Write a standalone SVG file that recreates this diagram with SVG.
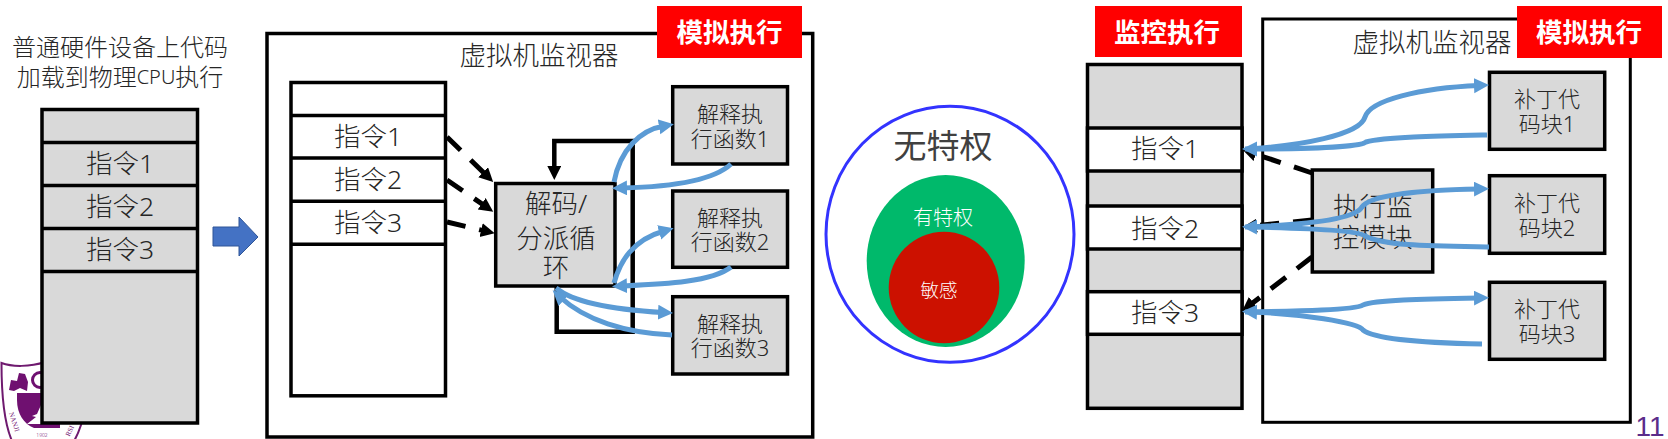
<svg xmlns="http://www.w3.org/2000/svg" width="1668" height="439" viewBox="0 0 1668 439">
<style>
text{font-family:"Noto Sans","Noto Sans CJK SC",sans-serif;text-anchor:middle;dominant-baseline:central;fill:#262626;font-weight:300}
.g{fill:#d9d9d9;stroke:#000;stroke-width:3.5}
.w{fill:#fff;stroke:#000;stroke-width:3.5}
.ln{stroke:#000;stroke-width:3.5;fill:none}
.red{fill:#f00}
.rt{fill:#fff;font-size:26.500px;font-weight:700}
.t26{font-size:26.500px}
.t22{font-size:22px}
.blue{fill:none;stroke:#5b9bd5;stroke-width:5;stroke-linecap:butt}
.ba{marker-end:url(#bh)}
.dash{fill:none;stroke:#000;stroke-width:5;stroke-dasharray:19 14;marker-end:url(#kh)}
</style>
<defs>
<marker id="bh" markerUnits="userSpaceOnUse" markerWidth="16" markerHeight="16" refX="5" refY="7.500" orient="auto"><path d="M0,0L15,7.500L0,15z" fill="#5b9bd5"/></marker>
<marker id="kh" markerUnits="userSpaceOnUse" markerWidth="15" markerHeight="15" refX="4" refY="7" orient="auto"><path d="M0,0L14,7L0,14z" fill="#000"/></marker>
</defs>
<rect width="1668" height="439" fill="#fff"/>

<g id="logo">
<path d="M1.500,363C12,367 30,367 45,362L90,362L81,425C79,431 77,436 74,441L12,441C5,425 1.500,400 1.500,363z" fill="#fff" stroke="#6f1a6f" stroke-width="2"/>
<path d="M17,393L60,393L60,428L34,428C24,424 17,414 17,400z" fill="#6f1070"/>
<path d="M41,405L37,414L32,416L36,417L27,424L41,424z" fill="#fff"/>
<path d="M9,390L11,380L17,381L19,373L25,374L28,382L27,391L20,388L14,391z" fill="#6f1070"/>
<circle cx="40" cy="380" r="7.500" fill="#fff" stroke="#6f1070" stroke-width="3"/>
<text x="14" y="422" font-size="7" transform="rotate(72 14 422)" style="fill:#6f1070;font-family:'Liberation Serif',serif">NANJI</text>
<text x="42" y="435" font-size="5" style="fill:#6f1070">1902</text>
<text x="70" y="431" font-size="7" transform="rotate(-65 70 431)" style="fill:#6f1070;font-family:'Liberation Serif',serif">RSI</text>
</g>

<g id="source-label">
<text font-size="24"><tspan x="120" y="46">普通硬件设备上代码</tspan><tspan x="120" y="76">加载到物理<tspan font-size="20">CPU</tspan>执行</tspan></text>
</g>

<g id="stack-hardware">
<rect class="g" x="42" y="109.500" width="155.500" height="313.500"/>
<path class="ln" d="M42,142.500H197.500M42,185.500H197.500M42,228.500H197.500M42,271.500H197.500"/>
<text class="t26" x="120" y="163">指令1</text>
<text class="t26" x="120" y="206">指令2</text>
<text class="t26" x="120" y="249">指令3</text>
</g>

<g id="big-arrow">
<path d="M213,227H239V217L258,237L239,256V246H213z" fill="#4472c4" stroke="#2f5597" stroke-width="1"/>
</g>

<g id="vmm-1">
<rect x="267" y="33.500" width="545.700" height="403.500" fill="#fff" stroke="#000" stroke-width="3.500"/>
<text class="t26" x="539" y="55">虚拟机监视器</text>
</g>
<g id="tag-emulate-1">
<rect class="red" x="657" y="6" width="145" height="52"/>
<text class="rt" x="729.500" y="32">模拟执行</text>
</g>

<g id="stack-vm">
<rect class="w" x="291" y="82.500" width="154.500" height="313.300"/>
<path class="ln" d="M291,115.500H445.500M291,158H445.500M291,201.300H445.500M291,244.300H445.500"/>
<text class="t26" x="368" y="136">指令1</text>
<text class="t26" x="368" y="179">指令2</text>
<text class="t26" x="368" y="222">指令3</text>
</g>

<g id="connectors-left">
<path d="M556.700,286V331.700H632.700V141H554.300V170" fill="none" stroke="#000" stroke-width="4.500" marker-end="url(#kh)"/>
<path class="dash" d="M447,137L486,175"/>
<path class="dash" d="M447,180L485,206"/>
<path class="dash" d="M447,222L485,231"/>
</g>

<g id="dispatch">
<rect class="g" x="495.700" y="183.500" width="119.300" height="102.500"/>
<text class="t26"><tspan x="556" y="203">解码/</tspan><tspan x="556" y="238">分派循</tspan><tspan x="556" y="267">环</tspan></text>
</g>

<g id="func-1">
<rect class="g" x="672.700" y="86.700" width="114.800" height="77.300"/>
<text class="t22"><tspan x="730" y="113">解释执</tspan><tspan x="730" y="138">行函数1</tspan></text>
</g>
<g id="func-2">
<rect class="g" x="672.700" y="191" width="114.800" height="76.300"/>
<text class="t22"><tspan x="730" y="217">解释执</tspan><tspan x="730" y="241">行函数2</tspan></text>
</g>
<g id="func-3">
<rect class="g" x="672.700" y="296.700" width="114.800" height="77.300"/>
<text class="t22"><tspan x="730" y="323">解释执</tspan><tspan x="730" y="347">行函数3</tspan></text>
</g>

<g id="connectors-left-blue">
<path class="blue ba" d="M614,182C620,150 640,130 664,126"/>
<path class="blue ba" d="M731,164C712,182 665,187 622,188"/>
<path class="blue ba" d="M614,283C620,262 632,240 664,231"/>
<path class="blue ba" d="M731,267C712,282 665,284 622,286"/>
<path class="blue ba" d="M556,288C575,304 620,310 663,312.500"/>
<path class="blue ba" d="M672,335C625,333 585,320 560,297"/>
</g>

<g id="rings">
<ellipse cx="950" cy="234.300" rx="124" ry="128" fill="#fff" stroke="#3333ff" stroke-width="3"/>
<text x="943" y="145" font-size="33" style="fill:#404040;font-weight:400">无特权</text>
<ellipse cx="945.700" cy="261" rx="79" ry="86" fill="#00b96b"/>
<text x="943" y="217" font-size="20" style="fill:#fff">有特权</text>
<ellipse cx="944" cy="287.500" rx="55.300" ry="55.800" fill="#cc1100"/>
<text x="939" y="289" font-size="18.500" style="fill:#fff">敏感</text>
</g>

<g id="tag-monitor">
<rect class="red" x="1095" y="6" width="147" height="51"/>
<text class="rt" x="1167" y="32">监控执行</text>
</g>

<g id="stack-monitor">
<rect class="g" x="1087.500" y="64.500" width="154.500" height="343.800"/>
<rect class="w" x="1087.500" y="128" width="154.500" height="43"/>
<rect class="w" x="1087.500" y="206" width="154.500" height="43"/>
<rect class="w" x="1087.500" y="291.700" width="154.500" height="42.600"/>
<text class="t26" x="1165" y="148">指令1</text>
<text class="t26" x="1165" y="228">指令2</text>
<text class="t26" x="1165" y="312">指令3</text>
</g>

<g id="vmm-2">
<rect x="1262.700" y="19" width="367.600" height="403.300" fill="#fff" stroke="#000" stroke-width="3"/>
<text class="t26" x="1432" y="41.700">虚拟机监视器</text>
</g>
<g id="tag-emulate-2">
<rect class="red" x="1517" y="6" width="145" height="52"/>
<text class="rt" x="1589" y="32">模拟执行</text>
</g>

<g id="patch-1">
<rect class="g" x="1489.500" y="72.300" width="115.200" height="77"/>
<text class="t22"><tspan x="1547" y="98">补丁代</tspan><tspan x="1547" y="123">码块1</tspan></text>
</g>
<g id="patch-2">
<rect class="g" x="1489.500" y="175.700" width="115.200" height="77.600"/>
<text class="t22"><tspan x="1547" y="202">补丁代</tspan><tspan x="1547" y="227">码块2</tspan></text>
</g>
<g id="patch-3">
<rect class="g" x="1489.500" y="282.300" width="115.200" height="77"/>
<text class="t22"><tspan x="1547" y="308">补丁代</tspan><tspan x="1547" y="333">码块3</tspan></text>
</g>

<g id="monitor-module">
<rect class="g" x="1312.300" y="170" width="120.400" height="102"/>
<text class="t26"><tspan x="1372.700" y="205.700">执行监</tspan><tspan x="1372.700" y="236.700">控模块</tspan></text>
</g>

<g id="connectors-right">
<path class="dash" d="M1312,173L1252,153"/>
<path class="dash" d="M1312,220L1253,226"/>
<path class="dash" d="M1312,257L1250,305"/>
<path class="blue ba" d="M1487,135C1440,136 1385,137 1366,142C1362,146 1320,149 1252,149"/>
<path class="blue ba" d="M1245,149C1300,146 1360,135 1365,117C1370,100 1420,88 1479,85.500"/>
<path class="blue ba" d="M1245,227C1300,225 1355,220 1362,207C1370,195 1420,190 1479,189"/>
<path class="blue ba" d="M1489,247C1430,246 1385,246 1365,236C1360,230 1300,228 1252,227"/>
<path class="blue ba" d="M1245,312C1300,311 1355,310 1363,305C1375,300 1420,299 1479,298"/>
<path class="blue ba" d="M1482,344C1430,343 1375,340 1363,330C1358,322 1300,314 1252,312"/>
</g>

<g id="page-number">
<text x="1650" y="426" font-size="28" style="fill:#5b2c8a;font-family:'Liberation Sans',sans-serif;font-weight:400">11</text>
</g>
</svg>
